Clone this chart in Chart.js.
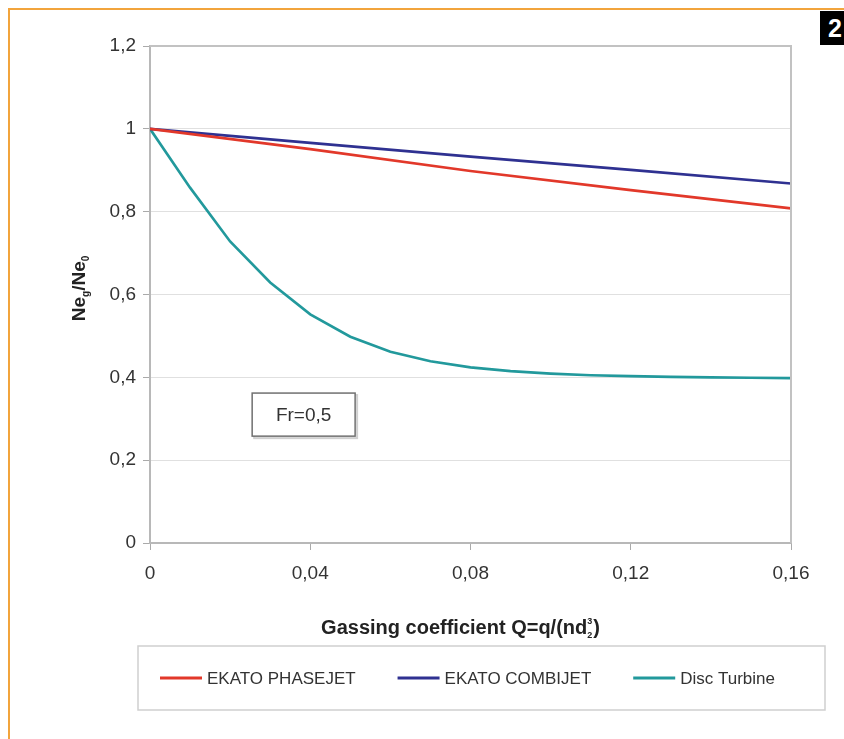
<!DOCTYPE html>
<html>
<head>
<meta charset="utf-8">
<script src="https://cdn.jsdelivr.net/npm/chart.js@4.4.0/dist/chart.umd.min.js"></script>
<style>
  html, body { margin:0; padding:0; background:#fff; }
  #wrap { position:relative; width:844px; height:739px; overflow:hidden; }
  .frame { position:absolute; left:8px; top:8px; right:-10px; bottom:-10px; border-top:2px solid #f2a43c; border-left:2px solid #f2a43c; }
  .badge { position:absolute; left:820px; top:11px; width:30px; height:34px; background:#000; color:#fff; font:bold 25px 'Liberation Sans', Arial, sans-serif; line-height:34px; text-align:center; }
  canvas { position:absolute; left:0; top:0; }
</style>
</head>
<body>
<div id="wrap">
  <div class="frame"></div>
  <div class="badge">2</div>
  <canvas id="chart" width="844" height="739"></canvas>
</div>
<script>
/* ── Data ─────────────────────────────── */
const qCoarse     = [0, 0.04, 0.08, 0.12, 0.16];
const qFine       = [0, 0.01, 0.02, 0.03, 0.04, 0.05, 0.06, 0.07, 0.08, 0.09, 0.10, 0.11, 0.12, 0.13, 0.14, 0.15, 0.16];
const phasejet    = [1.000, 0.951, 0.898, 0.852, 0.808];
const combijet    = [1.000, 0.966, 0.933, 0.901, 0.868];
const discTurbine = [1.000, 0.858, 0.728, 0.629, 0.552, 0.498, 0.462, 0.439, 0.424, 0.415, 0.409, 0.405, 0.403, 0.401, 0.400, 0.399, 0.398];
const seriesNames = ['EKATO PHASEJET', 'EKATO COMBIJET', 'Disc Turbine'];
const xTicks      = [0, 0.04, 0.08, 0.12, 0.16];
const yTicks      = [0, 0.2, 0.4, 0.6, 0.8, 1.0, 1.2];

const FONT   = "'Liberation Sans', Arial, Helvetica, sans-serif";
const colors = ['#e2382a', '#2f3191', '#22999c'];
Chart.defaults.font.family = FONT;

const fmt = v => String(Number(v.toFixed(2))).replace('.', ',');
const pts = (xs, ys) => xs.map((x, i) => ({ x, y: ys[i] }));

/* ── Rich text helper (sub/superscripts) ── */
function rich(ctx, parts, x, baseline, draw) {
  let cx = x;
  parts.forEach(p => {
    ctx.font = `bold ${p.size}px ${FONT}`;
    if (p.stack) {
      let w = 0;
      p.stack.forEach(s => {
        if (draw) ctx.fillText(s.text, cx, baseline + s.dy);
        w = Math.max(w, ctx.measureText(s.text).width);
      });
      cx += w + 1;
    } else {
      if (draw) ctx.fillText(p.text, cx, baseline + (p.dy || 0));
      cx += ctx.measureText(p.text).width;
    }
  });
  return cx - x;
}

const xTitle = [
  { text: 'Gassing coefficient Q=q/(nd', size: 20 },
  { size: 9, stack: [{ text: '2', dy: 4 }, { text: '3', dy: -10 }] },
  { text: ')', size: 20 },
];
const yTitle = [
  { text: 'Ne', size: 19 },
  { text: 'g', size: 10, dy: 4 },
  { text: '/Ne', size: 19 },
  { text: '0', size: 10, dy: 4 },
];

/* ── Frame, titles, note box, legend ────── */
const decor = {
  id: 'decor',
  afterDraw(chart) {
    const { ctx, chartArea: a, scales } = chart;
    ctx.save();

    // plot area border (top/right)
    ctx.strokeStyle = '#c2c2c2';
    ctx.lineWidth = 2;
    ctx.beginPath();
    ctx.moveTo(a.left, a.top); ctx.lineTo(a.right, a.top); ctx.lineTo(a.right, a.bottom);
    ctx.stroke();

    // axis titles
    ctx.fillStyle = '#222';
    ctx.textAlign = 'left';
    ctx.textBaseline = 'alphabetic';
    let w = rich(ctx, xTitle, 0, 0, false);
    rich(ctx, xTitle, (a.left + a.right) / 2 - w / 2 - 10, a.bottom + 91, true);

    ctx.save();
    ctx.translate(85, (a.top + a.bottom) / 2 - 6);
    ctx.rotate(-Math.PI / 2);
    w = rich(ctx, yTitle, 0, 0, false);
    rich(ctx, yTitle, -w / 2, 0, true);
    ctx.restore();

    // Fr=0,5 note box
    const bx0 = scales.x.getPixelForValue(0.0255), bx1 = scales.x.getPixelForValue(0.0512);
    const by0 = scales.y.getPixelForValue(0.362),  by1 = scales.y.getPixelForValue(0.258);
    ctx.strokeStyle = '#d0d0d0';
    ctx.lineWidth = 2;
    ctx.strokeRect(bx0 + 2, by0 + 2, bx1 - bx0, by1 - by0);
    ctx.fillStyle = '#fff';
    ctx.fillRect(bx0, by0, bx1 - bx0, by1 - by0);
    ctx.strokeStyle = '#707070';
    ctx.lineWidth = 1.5;
    ctx.strokeRect(bx0, by0, bx1 - bx0, by1 - by0);
    ctx.fillStyle = '#333';
    ctx.font = `19px ${FONT}`;
    ctx.textAlign = 'center';
    ctx.textBaseline = 'middle';
    ctx.fillText('Fr=0,5', (bx0 + bx1) / 2, (by0 + by1) / 2 + 1);

    // legend
    const lx0 = a.left - 12, lx1 = a.right + 34, ly0 = a.bottom + 103, ly1 = ly0 + 64;
    ctx.strokeStyle = '#cfcfcf';
    ctx.lineWidth = 1.5;
    ctx.strokeRect(lx0, ly0, lx1 - lx0, ly1 - ly0);
    ctx.font = `17px ${FONT}`;
    ctx.textAlign = 'left';
    const lineLen = 42, gapText = 5;
    const items = chart.data.datasets.map(d => ({ label: d.label, color: d.borderColor, w: lineLen + gapText + ctx.measureText(d.label).width }));
    const total = items.reduce((s, it) => s + it.w, 0);
    const start = lx0 + 22, end = lx1 - 50;
    const gap = (end - start - total) / (items.length - 1);
    let x = start;
    const ly = (ly0 + ly1) / 2;
    items.forEach(it => {
      ctx.strokeStyle = it.color;
      ctx.lineWidth = 3;
      ctx.beginPath(); ctx.moveTo(x, ly); ctx.lineTo(x + lineLen, ly); ctx.stroke();
      ctx.fillStyle = '#333';
      ctx.fillText(it.label, x + lineLen + gapText, ly + 1);
      x += it.w + gap;
    });

    ctx.restore();
  },
};

/* ── Chart ─────────────────────────────── */
new Chart(document.getElementById('chart'), {
  type: 'line',
  data: {
    datasets: [
      { label: seriesNames[0], data: pts(qCoarse, phasejet),  borderColor: colors[0] },
      { label: seriesNames[1], data: pts(qCoarse, combijet),  borderColor: colors[1] },
      { label: seriesNames[2], data: pts(qFine, discTurbine), borderColor: colors[2] },
    ],
  },
  options: {
    responsive: false,
    animation: false,
    layout: { padding: { left: 90, right: 53, top: 46, bottom: 146 } },
    plugins: { legend: { display: false }, tooltip: { enabled: false } },
    elements: { point: { radius: 0 }, line: { borderWidth: 2.6, tension: 0 } },
    scales: {
      x: {
        type: 'linear', min: 0, max: 0.16,
        afterBuildTicks: s => { s.ticks = xTicks.map(v => ({ value: v })); },
        afterFit: s => { s.height = 50; },
        grid: { drawOnChartArea: false, tickLength: 7, tickColor: '#aaa' },
        border: { color: '#b8b8b8', width: 2 },
        ticks: { color: '#333', font: { size: 19 }, padding: 12, maxRotation: 0, callback: fmt },
      },
      y: {
        type: 'linear', min: 0, max: 1.2,
        afterBuildTicks: s => { s.ticks = yTicks.map(v => ({ value: v })); },
        afterFit: s => { s.width = 60; },
        grid: { color: '#e0e0e0', tickLength: 7, tickColor: '#aaa' },
        border: { color: '#b8b8b8', width: 2 },
        ticks: { color: '#333', font: { size: 19 }, padding: 7, callback: fmt },
      },
    },
  },
  plugins: [decor],
});
</script>
</body>
</html>
